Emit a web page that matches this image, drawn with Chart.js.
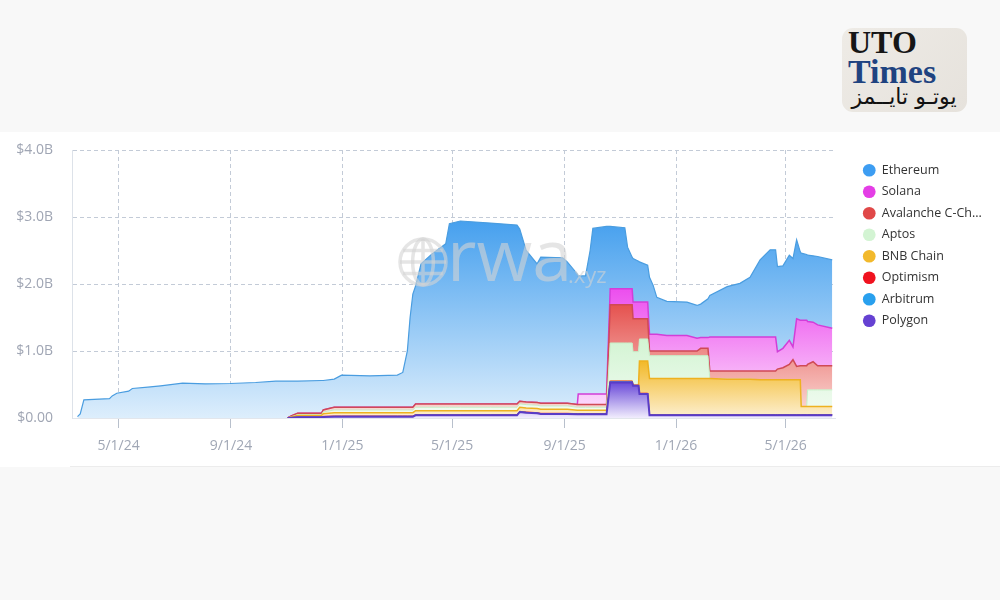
<!DOCTYPE html>
<html><head><meta charset="utf-8">
<script src="https://cdn.jsdelivr.net/npm/chart.js@4.4.1/dist/chart.umd.min.js"></script>
<style>
html,body{margin:0;padding:0;background:#f8f8f8;width:1000px;height:600px;overflow:hidden;font-family:'Open Sans',sans-serif}
#panel{position:absolute;left:0;top:132px;width:1000px;height:335px;background:#fff}
#rule{position:absolute;left:70px;top:466px;width:930px;height:1px;background:#ececec}
#logo{position:absolute;left:842px;top:28px;width:125px;height:84px;border-radius:11px;background:linear-gradient(135deg,#eeebe6,#e6e2dc)}
#logo .uto{position:absolute;left:6px;top:-2px;font:bold 32px 'Liberation Serif',serif;color:#161616;line-height:1}
#logo .times{position:absolute;left:6px;top:27px;font:bold 34px 'Liberation Serif',serif;color:#1f4380;line-height:1}
#logo .ar{position:absolute;left:6px;top:56px;width:112px;font:22px 'DejaVu Sans',sans-serif;color:#111;direction:rtl;text-align:center;line-height:1.2}
</style></head><body>
<div id="panel"><canvas id="c" width="1000" height="335"></canvas></div>
<div id="rule"></div>
<div id="logo"><div class="uto">UTO</div><div class="times">Times</div><div class="ar">يوتـو تايــمز</div></div>
<script>
// ---- data (values in billions USD); null = chain not yet tracked ----
const dates = ['2024-03-17','2024-03-20','2024-03-24','2024-04-21','2024-04-24','2024-04-29','2024-05-12','2024-05-16','2024-06-02','2024-06-16',
'2024-07-10','2024-08-04','2024-08-31','2024-09-28','2024-10-20','2024-11-02','2024-11-06','2024-11-13','2024-12-09','2024-12-11',
'2024-12-23','2024-12-31','2025-01-31','2025-03-02','2025-03-08','2025-03-13','2025-03-16','2025-03-19','2025-03-22','2025-03-28',
'2025-04-09','2025-04-24','2025-04-28','2025-05-10','2025-06-12','2025-07-11','2025-07-14','2025-07-21','2025-08-02','2025-08-06',
'2025-08-30','2025-09-04','2025-09-15','2025-09-16','2025-09-24','2025-09-29','2025-10-02','2025-10-17','2025-10-21','2025-11-06',
'2025-11-09','2025-11-14','2025-11-15','2025-11-21','2025-11-22','2025-12-01','2025-12-03','2025-12-07','2025-12-11','2025-12-22',
'2026-01-13','2026-01-24','2026-01-28','2026-02-05','2026-02-07','2026-02-26','2026-03-12','2026-03-23','2026-04-03','2026-04-14',
'2026-04-20','2026-04-22','2026-04-28','2026-05-05','2026-05-09','2026-05-13','2026-05-17','2026-05-18','2026-05-24','2026-05-25',
'2026-05-31','2026-06-05','2026-06-21'];

const N = null;
const polygon = [N,N,N,N,N,N,N,N,N,N, N,N,N,N,N,0,0.005,0.01,0.01,0.015,
0.02,0.02,0.02,0.02,0.02,0.02,0.02,0.02,0.04,0.04, 0.04,0.04,0.04,0.04,0.04,0.04,0.09,0.08,0.07,0.06,
0.06,0.06,0.055,0.055,0.055,0.055,0.055,0.055,0.53,0.53, 0.53,0.53,0.48,0.48,0.36,0.36,0.04,0.04,0.04,0.04,
0.04,0.04,0.04,0.04,0.04,0.04,0.04,0.04,0.04,0.04, 0.04,0.04,0.04,0.04,0.04,0.04,0.04,0.04,0.04,0.04, 0.04,0.04,0.04];
const arbitrum = [N,N,N,N,N,N,N,N,N,N, N,N,N,N,N,0,0,0.003,0.003,0.005,
0.005,0.005,0.005,0.005,0.005,0.005,0.005,0.005,0.005,0.005, 0.005,0.005,0.005,0.005,0.005,0.005,0.005,0.005,0.005,0.005,
0.005,0.005,0.005,0.005,0.005,0.005,0.005,0.005,0.01,0.01, 0.01,0.01,0.005,0.005,0.005,0.005,0.005,0.005,0.005,0.005,
0.005,0.005,0.005,0.005,0.005,0.005,0.005,0.005,0.005,0.005, 0.005,0.005,0.005,0.005,0.005,0.005,0.005,0.005,0.005,0.005, 0.005,0.005,0.005];
const optimism = [N,N,N,N,N,N,N,N,N,N, N,N,N,N,N,0,0,0.003,0.003,0.005,
0.005,0.005,0.005,0.005,0.005,0.005,0.005,0.005,0.005,0.005, 0.005,0.005,0.005,0.005,0.005,0.005,0.005,0.005,0.005,0.005,
0.005,0.005,0.005,0.005,0.005,0.005,0.005,0.005,0.01,0.01, 0.01,0.01,0.005,0.005,0.005,0.005,0.005,0.005,0.005,0.005,
0.005,0.005,0.005,0.005,0.005,0.005,0.005,0.005,0.005,0.005, 0.005,0.005,0.005,0.005,0.005,0.005,0.005,0.005,0.005,0.005, 0.005,0.005,0.005];
const bnbChain = [N,N,N,N,N,N,N,N,N,N, N,N,N,N,N,0,0.01,0.02,0.02,0.04,
0.05,0.05,0.05,0.05,0.05,0.05,0.05,0.05,0.06,0.06, 0.06,0.06,0.06,0.06,0.06,0.06,0.06,0.06,0.06,0.06,
0.06,0.06,0.05,0.05,0.05,0.05,0.05,0.05,0,0, 0,0,0,0,0.48,0.48,0.54,0.54,0.54,0.54,
0.54,0.54,0.54,0.54,0.54,0.53,0.53,0.53,0.52,0.52, 0.52,0.52,0.52,0.52,0.52,0.52,0.52,0.12,0.12,0.12, 0.12,0.12,0.12];
const aptos = [N,N,N,N,N,N,N,N,N,N, N,N,N,N,N,0,0.005,0.014,0.014,0.025,
0.04,0.04,0.04,0.04,0.04,0.04,0.04,0.04,0.05,0.05, 0.05,0.05,0.05,0.05,0.05,0.05,0.05,0.05,0.05,0.05,
0.05,0.05,0.045,0.045,0.045,0.045,0.045,0.045,0.57,0.57, 0.57,0.57,0.50,0.50,0.33,0.33,0.34,0.34,0.34,0.34,
0.34,0.34,0.34,0.34,0,0,0,0,0,0, 0,0,0,0,0,0,0,0,0,0.25, 0.25,0.25,0.25];
const avalanche = [N,N,N,N,N,N,N,N,N,N, N,N,N,N,N,0,0.01,0.02,0.02,0.03,
0.04,0.04,0.04,0.04,0.04,0.04,0.04,0.04,0.05,0.05, 0.05,0.05,0.05,0.05,0.05,0.05,0.04,0.04,0.04,0.04,
0.04,0.04,0.04,0.04,0.04,0.04,0.04,0.04,0.57,0.57, 0.57,0.57,0.49,0.49,0.30,0.30,0.07,0.07,0.07,0.07,
0.07,0.07,0.11,0.11,0.11,0.12,0.12,0.12,0.13,0.13, 0.13,0.16,0.18,0.23,0.30,0.20,0.21,0.61,0.61,0.38, 0.42,0.36,0.36];
const solana = [N,N,N,N,N,N,N,N,N,N, N,N,N,N,N,0,0,0,0,0,
0,0,0,0,0,0,0,0,0,0, 0,0,0,0,0,0,0,0,0,0,
0,0,0,0.16,0.16,0.16,0.16,0.16,0.24,0.24, 0.24,0.24,0.25,0.25,0.25,0.25,0.25,0.25,0.25,0.23,
0.23,0.19,0.16,0.16,0.51,0.51,0.51,0.51,0.51,0.51, 0.51,0.26,0.29,0.36,0.19,0.71,0.68,0.68,0.68,0.64, 0.59,0.61,0.56];
const ethereum = [0.02,0.06,0.27,0.29,0.33,0.37,0.40,0.44,0.46,0.48, 0.52,0.51,0.515,0.53,0.55,0.55,0.52,0.48,0.49,0.44,
0.42,0.48,0.47,0.48,0.52,0.84,1.34,1.69,1.76,2.09, 2.24,2.39,2.69,2.73,2.70,2.67,2.57,2.26,2.07,2.18,
2.17,2.11,1.95,1.76,1.76,2.14,2.47,2.50,0.93,0.91, 0.62,0.47,0.65,0.61,0.60,0.55,0.85,0.73,0.55,0.51,
0.50,0.49,0.50,0.58,0.62,0.75,0.80,0.89,1.15,1.30, 1.30,1.27,1.23,1.27,1.32,1.18,1.02,1.00,0.98,0.99, 0.99,1.02,1.02];

const xTickDates = ['2024-05-01','2024-09-01','2025-01-01','2025-05-01','2025-09-01','2026-01-01','2026-05-01'];
const xRange = ['2024-03-11','2026-06-24'];
const yTickLabels = ['$0.00','$1.0B','$2.0B','$3.0B','$4.0B'];

// ---- helpers ----
const toMs = s => { const [y,m,d] = s.split('-').map(Number); return Date.UTC(y, m-1, d); };
const fmtDate = v => { const d = new Date(v); return (d.getUTCMonth()+1) + '/' + d.getUTCDate() + '/' + String(d.getUTCFullYear()).slice(2); };

// stacking order bottom -> top
const stackOrder = [
  {label:'Polygon', data:polygon, line:'#5a3cc6', lw:2, top:'#6a4ad8', bot:'#f1edfd', legend:'#6541d2'},
  {label:'Arbitrum', data:arbitrum, line:'#2b94e6', lw:1, top:'#4aaaf0', bot:'#cfe8fb', legend:'#29a0ee'},
  {label:'Optimism', data:optimism, line:'#e8142c', lw:1, top:'#ff3a4c', bot:'#ffd0d4', legend:'#f0121f'},
  {label:'BNB Chain', data:bnbChain, line:'#eeb120', lw:1.5, top:'#f2b928', bot:'#fdf0d2', legend:'#f2b92c'},
  {label:'Aptos', data:aptos, line:'#c6edc6', lw:1, top:'#d3f4d3', bot:'#f3fcf3', legend:'#d3f4d3'},
  {label:'Avalanche C-Chain', data:avalanche, line:'#cf4a55', lw:1.5, top:'#e5524f', bot:'#fbe0dc', legend:'#e04848'},
  {label:'Solana', data:solana, line:'#d23ed8', lw:1.5, top:'#ec4eee', bot:'#fde8fd', legend:'#e43ee6'},
  {label:'Ethereum', data:ethereum, line:'#4a9de0', lw:1.2, top:'#46a0ee', bot:'#ddeefc', legend:'#3d9df2'}
];

function gradFor(idx, top, bot){
  return (ctx) => {
    const chart = ctx.chart;
    if (!chart.chartArea) return top;
    const y = chart.scales.y;
    let max = 0;
    for (let j = 0; j < dates.length; j++) {
      let s = 0; for (let k = 0; k <= idx; k++) s += (stackOrder[k].data[j] || 0);
      if (s > max) max = s;
    }
    const g = chart.ctx.createLinearGradient(0, y.getPixelForValue(max), 0, y.getPixelForValue(0));
    g.addColorStop(0, top); g.addColorStop(1, bot);
    return g;
  };
}

const datasets = stackOrder.map((s, i) => ({
  label: s.label,
  data: dates.map((d, j) => ({x: toMs(d), y: s.data[j]})),
  borderColor: s.line,
  borderWidth: s.lw,
  backgroundColor: gradFor(i, s.top, s.bot),
  fill: 'stack',
  pointRadius: 0,
  tension: 0,
  spanGaps: false,
  legendColor: s.legend
}));

const watermark = {
  id: 'watermark',
  afterDatasetsDraw(chart){
    const c = chart.ctx; c.save();
    const col = 'rgba(212,212,212,0.6)';
    c.strokeStyle = col; c.lineWidth = 3.5;
    const cx = 423, cy = 130, r = 23;
    c.beginPath(); c.arc(cx, cy, r, 0, Math.PI*2); c.stroke();
    c.beginPath(); c.ellipse(cx, cy, r*0.45, r, 0, 0, Math.PI*2); c.stroke();
    c.beginPath(); c.moveTo(cx, cy-r); c.lineTo(cx, cy+r);
    c.moveTo(cx-r, cy); c.lineTo(cx+r, cy);
    c.moveTo(cx-r*0.86, cy-r*0.5); c.lineTo(cx+r*0.86, cy-r*0.5);
    c.moveTo(cx-r*0.86, cy+r*0.5); c.lineTo(cx+r*0.86, cy+r*0.5); c.stroke();
    c.fillStyle = col;
    c.font = '72px "Open Sans"'; c.textBaseline = 'alphabetic';
    c.fillText('rwa', 447, 149);
    c.font = '22px "Open Sans"';
    c.fillText('.xyz', 568, 151);
    c.restore();
  }
};

const legendTweak = {
  id: 'legendTweak',
  afterInit(chart){
    const lg = chart.legend; if (!lg) return;
    const orig = lg.fit.bind(lg);
    lg.fit = function(){ orig(); this.width = 165; };
  },
  afterLayout(chart){
    const lg = chart.legend; if (!lg) return;
    lg.left += 19; lg.right += 19; lg.top += 5; lg.bottom += 5;
  }
};

Chart.defaults.font.family = "'Open Sans', sans-serif";

new Chart(document.getElementById('c'), {
  type: 'line',
  data: { datasets },
  plugins: [watermark, legendTweak],
  options: {
    responsive: false,
    animation: false,
    layout: { padding: { top: 18, left: 0, right: 0, bottom: 0 } },
    interaction: { mode: 'nearest', intersect: false },
    plugins: {
      tooltip: { enabled: false },
      legend: {
        position: 'right',
        align: 'start',
        labels: {
          usePointStyle: true,
          boxWidth: 21,
          boxHeight: 9,
          padding: 9,
          color: '#333',
          font: { size: 12.5 },
          generateLabels: chart => chart.data.datasets.map((ds, i) => ({
            text: ds.label.length > 14 ? ds.label.slice(0, 14) + '...' : ds.label,
            fillStyle: ds.legendColor, strokeStyle: ds.legendColor, lineWidth: 0,
            pointStyle: 'circle', hidden: !chart.isDatasetVisible(i), datasetIndex: i, fontColor: '#333'
          })).reverse()
        }
      }
    },
    scales: {
      x: {
        type: 'linear',
        min: toMs(xRange[0]),
        max: toMs(xRange[1]),
        afterBuildTicks: ax => { ax.ticks = xTickDates.map(d => ({ value: toMs(d) })); },
        afterFit: ax => { ax.height = 49; },
        ticks: { autoSkip: false, maxRotation: 0, padding: 10, color: '#a0a7b5', font: { size: 14 }, callback: v => fmtDate(v) },
        grid: { color: '#c3cbd7', tickColor: '#b8c0cc', tickLength: 10, drawTicks: true },
        border: { display: true, color: '#e2e6ec', dash: [4, 3] }
      },
      y: {
        stacked: true,
        min: 0, max: 4,
        afterBuildTicks: ax => { ax.ticks = [0,1,2,3,4].map(v => ({ value: v })); },
        afterFit: ax => { ax.width = 72; },
        ticks: { padding: 3, color: '#a0a6b4', font: { size: 14 }, callback: (v, i) => yTickLabels[i] },
        grid: { drawTicks: true, tickLength: 16, tickColor: 'rgba(0,0,0,0)',
                color: c => (c.tick && c.tick.value === 0) ? 'rgba(0,0,0,0)' : '#c3cbd7' },
        border: { display: true, color: '#dde2e9', dash: [4, 3] }
      }
    }
  }
});
</script>
</body></html>
